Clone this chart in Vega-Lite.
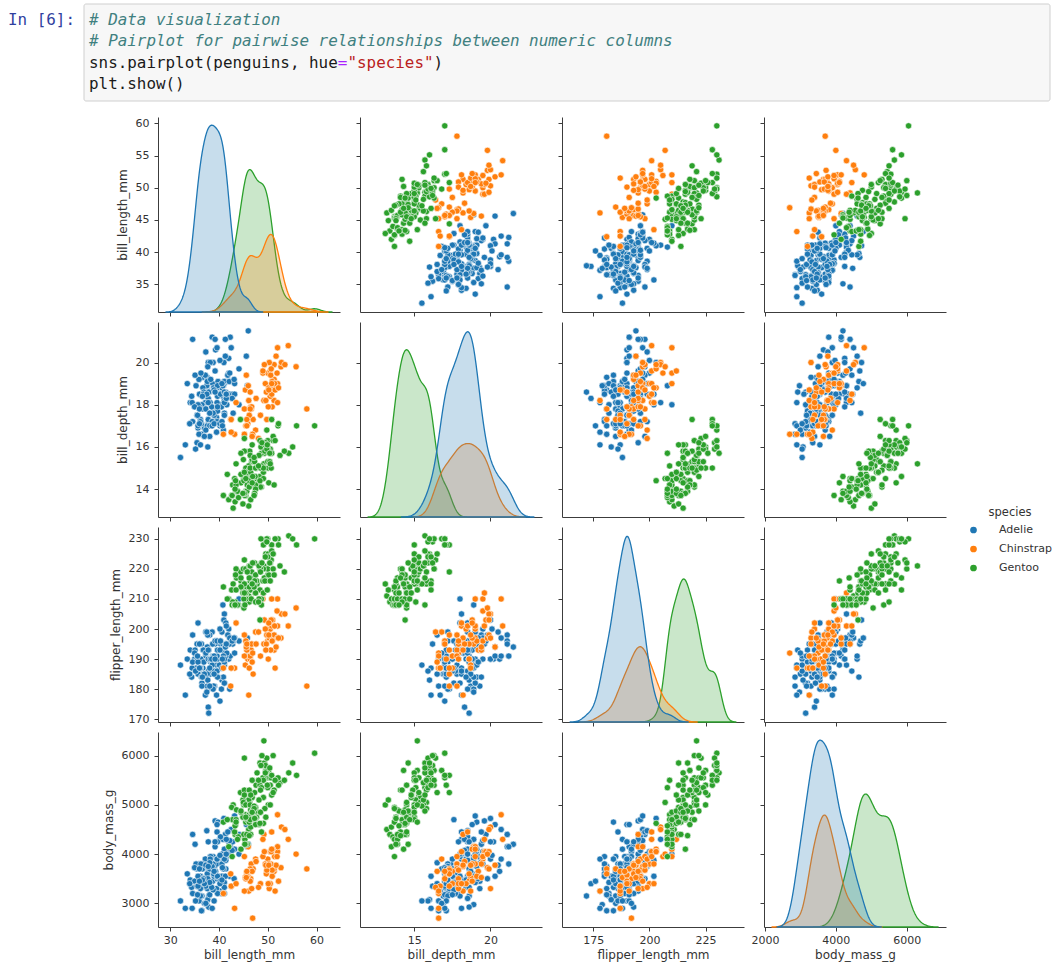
{
"$schema":"https://vega.github.io/schema/vega-lite/v6.json",
"background":"white",
"padding":{"left":8,"top":3,"right":4,"bottom":2},
"bounds":"flush",
"spacing":16,
"datasets":{
"code":[
{"line":1,"col":-8.46,"text":"In [6]:","kind":"prompt"},
{"line":1,"col":0,"text":"# Data visualization","kind":"comment"},
{"line":2,"col":0,"text":"# Pairplot for pairwise relationships between numeric columns","kind":"comment"},
{"line":3,"col":0,"text":"sns.pairplot(penguins, hue","kind":"code"},
{"line":3,"col":26,"text":"=","kind":"operator"},
{"line":3,"col":27,"text":"\"species\"","kind":"string"},
{"line":3,"col":36,"text":")","kind":"code"},
{"line":4,"col":0,"text":"plt.show()","kind":"code"}
],
"box":[{"x1":-0.522,"x2":100.4,"y1":0.25,"y2":4.797}],
"penguins":[
{"species":"Adelie","bill_length_mm":39.1,"bill_depth_mm":18.7,"flipper_length_mm":181,"body_mass_g":3750},
{"species":"Adelie","bill_length_mm":39.5,"bill_depth_mm":17.4,"flipper_length_mm":186,"body_mass_g":3800},
{"species":"Adelie","bill_length_mm":40.3,"bill_depth_mm":18.0,"flipper_length_mm":195,"body_mass_g":3250},
{"species":"Adelie","bill_length_mm":36.7,"bill_depth_mm":19.3,"flipper_length_mm":193,"body_mass_g":3450},
{"species":"Adelie","bill_length_mm":39.3,"bill_depth_mm":20.6,"flipper_length_mm":190,"body_mass_g":3650},
{"species":"Adelie","bill_length_mm":38.9,"bill_depth_mm":17.8,"flipper_length_mm":181,"body_mass_g":3625},
{"species":"Adelie","bill_length_mm":39.2,"bill_depth_mm":19.6,"flipper_length_mm":195,"body_mass_g":4675},
{"species":"Adelie","bill_length_mm":34.1,"bill_depth_mm":18.1,"flipper_length_mm":193,"body_mass_g":3475},
{"species":"Adelie","bill_length_mm":42.0,"bill_depth_mm":20.2,"flipper_length_mm":190,"body_mass_g":4250},
{"species":"Adelie","bill_length_mm":37.8,"bill_depth_mm":17.1,"flipper_length_mm":186,"body_mass_g":3300},
{"species":"Adelie","bill_length_mm":37.8,"bill_depth_mm":17.3,"flipper_length_mm":180,"body_mass_g":3700},
{"species":"Adelie","bill_length_mm":41.1,"bill_depth_mm":17.6,"flipper_length_mm":182,"body_mass_g":3200},
{"species":"Adelie","bill_length_mm":38.6,"bill_depth_mm":21.2,"flipper_length_mm":191,"body_mass_g":3800},
{"species":"Adelie","bill_length_mm":34.6,"bill_depth_mm":21.1,"flipper_length_mm":198,"body_mass_g":4400},
{"species":"Adelie","bill_length_mm":36.6,"bill_depth_mm":17.8,"flipper_length_mm":185,"body_mass_g":3700},
{"species":"Adelie","bill_length_mm":38.7,"bill_depth_mm":19.0,"flipper_length_mm":195,"body_mass_g":3450},
{"species":"Adelie","bill_length_mm":42.5,"bill_depth_mm":20.7,"flipper_length_mm":197,"body_mass_g":4500},
{"species":"Adelie","bill_length_mm":34.4,"bill_depth_mm":18.4,"flipper_length_mm":184,"body_mass_g":3325},
{"species":"Adelie","bill_length_mm":46.0,"bill_depth_mm":21.5,"flipper_length_mm":194,"body_mass_g":4200},
{"species":"Adelie","bill_length_mm":37.8,"bill_depth_mm":18.3,"flipper_length_mm":174,"body_mass_g":3400},
{"species":"Adelie","bill_length_mm":37.7,"bill_depth_mm":18.7,"flipper_length_mm":180,"body_mass_g":3600},
{"species":"Adelie","bill_length_mm":35.9,"bill_depth_mm":19.2,"flipper_length_mm":189,"body_mass_g":3800},
{"species":"Adelie","bill_length_mm":38.2,"bill_depth_mm":18.1,"flipper_length_mm":185,"body_mass_g":3950},
{"species":"Adelie","bill_length_mm":38.8,"bill_depth_mm":17.2,"flipper_length_mm":180,"body_mass_g":3800},
{"species":"Adelie","bill_length_mm":35.3,"bill_depth_mm":18.9,"flipper_length_mm":187,"body_mass_g":3800},
{"species":"Adelie","bill_length_mm":40.6,"bill_depth_mm":18.6,"flipper_length_mm":183,"body_mass_g":3550},
{"species":"Adelie","bill_length_mm":40.5,"bill_depth_mm":17.9,"flipper_length_mm":187,"body_mass_g":3200},
{"species":"Adelie","bill_length_mm":37.9,"bill_depth_mm":18.6,"flipper_length_mm":172,"body_mass_g":3150},
{"species":"Adelie","bill_length_mm":40.5,"bill_depth_mm":18.9,"flipper_length_mm":180,"body_mass_g":3950},
{"species":"Adelie","bill_length_mm":39.5,"bill_depth_mm":16.7,"flipper_length_mm":178,"body_mass_g":3250},
{"species":"Adelie","bill_length_mm":37.2,"bill_depth_mm":18.1,"flipper_length_mm":178,"body_mass_g":3900},
{"species":"Adelie","bill_length_mm":39.5,"bill_depth_mm":17.8,"flipper_length_mm":188,"body_mass_g":3300},
{"species":"Adelie","bill_length_mm":40.9,"bill_depth_mm":18.9,"flipper_length_mm":184,"body_mass_g":3900},
{"species":"Adelie","bill_length_mm":36.4,"bill_depth_mm":17.0,"flipper_length_mm":195,"body_mass_g":3325},
{"species":"Adelie","bill_length_mm":39.2,"bill_depth_mm":21.1,"flipper_length_mm":196,"body_mass_g":4150},
{"species":"Adelie","bill_length_mm":38.8,"bill_depth_mm":20.0,"flipper_length_mm":190,"body_mass_g":3950},
{"species":"Adelie","bill_length_mm":42.2,"bill_depth_mm":18.5,"flipper_length_mm":180,"body_mass_g":3550},
{"species":"Adelie","bill_length_mm":37.6,"bill_depth_mm":19.3,"flipper_length_mm":181,"body_mass_g":3300},
{"species":"Adelie","bill_length_mm":39.8,"bill_depth_mm":19.1,"flipper_length_mm":184,"body_mass_g":4650},
{"species":"Adelie","bill_length_mm":36.5,"bill_depth_mm":18.0,"flipper_length_mm":182,"body_mass_g":3150},
{"species":"Adelie","bill_length_mm":40.8,"bill_depth_mm":18.4,"flipper_length_mm":195,"body_mass_g":3900},
{"species":"Adelie","bill_length_mm":36.0,"bill_depth_mm":18.5,"flipper_length_mm":186,"body_mass_g":3100},
{"species":"Adelie","bill_length_mm":44.1,"bill_depth_mm":19.7,"flipper_length_mm":196,"body_mass_g":4400},
{"species":"Adelie","bill_length_mm":37.0,"bill_depth_mm":16.9,"flipper_length_mm":185,"body_mass_g":3000},
{"species":"Adelie","bill_length_mm":39.6,"bill_depth_mm":18.8,"flipper_length_mm":190,"body_mass_g":4600},
{"species":"Adelie","bill_length_mm":41.1,"bill_depth_mm":19.0,"flipper_length_mm":182,"body_mass_g":3425},
{"species":"Adelie","bill_length_mm":37.5,"bill_depth_mm":18.9,"flipper_length_mm":179,"body_mass_g":2975},
{"species":"Adelie","bill_length_mm":36.0,"bill_depth_mm":17.9,"flipper_length_mm":190,"body_mass_g":3450},
{"species":"Adelie","bill_length_mm":42.3,"bill_depth_mm":21.2,"flipper_length_mm":191,"body_mass_g":4150},
{"species":"Adelie","bill_length_mm":39.6,"bill_depth_mm":17.7,"flipper_length_mm":186,"body_mass_g":3500},
{"species":"Adelie","bill_length_mm":40.1,"bill_depth_mm":18.9,"flipper_length_mm":188,"body_mass_g":4300},
{"species":"Adelie","bill_length_mm":35.0,"bill_depth_mm":17.9,"flipper_length_mm":190,"body_mass_g":3450},
{"species":"Adelie","bill_length_mm":42.0,"bill_depth_mm":19.5,"flipper_length_mm":200,"body_mass_g":4050},
{"species":"Adelie","bill_length_mm":34.5,"bill_depth_mm":18.1,"flipper_length_mm":187,"body_mass_g":2900},
{"species":"Adelie","bill_length_mm":41.4,"bill_depth_mm":18.6,"flipper_length_mm":191,"body_mass_g":3700},
{"species":"Adelie","bill_length_mm":39.0,"bill_depth_mm":17.5,"flipper_length_mm":186,"body_mass_g":3550},
{"species":"Adelie","bill_length_mm":40.6,"bill_depth_mm":18.8,"flipper_length_mm":193,"body_mass_g":3800},
{"species":"Adelie","bill_length_mm":36.5,"bill_depth_mm":16.6,"flipper_length_mm":181,"body_mass_g":2850},
{"species":"Adelie","bill_length_mm":37.6,"bill_depth_mm":19.1,"flipper_length_mm":194,"body_mass_g":3750},
{"species":"Adelie","bill_length_mm":35.7,"bill_depth_mm":16.9,"flipper_length_mm":185,"body_mass_g":3150},
{"species":"Adelie","bill_length_mm":41.3,"bill_depth_mm":21.1,"flipper_length_mm":195,"body_mass_g":4400},
{"species":"Adelie","bill_length_mm":37.6,"bill_depth_mm":17.0,"flipper_length_mm":185,"body_mass_g":3600},
{"species":"Adelie","bill_length_mm":41.1,"bill_depth_mm":18.2,"flipper_length_mm":192,"body_mass_g":4050},
{"species":"Adelie","bill_length_mm":36.4,"bill_depth_mm":17.1,"flipper_length_mm":184,"body_mass_g":2850},
{"species":"Adelie","bill_length_mm":41.6,"bill_depth_mm":18.0,"flipper_length_mm":192,"body_mass_g":3950},
{"species":"Adelie","bill_length_mm":35.5,"bill_depth_mm":16.2,"flipper_length_mm":195,"body_mass_g":3350},
{"species":"Adelie","bill_length_mm":41.1,"bill_depth_mm":19.1,"flipper_length_mm":188,"body_mass_g":4100},
{"species":"Adelie","bill_length_mm":35.9,"bill_depth_mm":16.6,"flipper_length_mm":190,"body_mass_g":3050},
{"species":"Adelie","bill_length_mm":41.8,"bill_depth_mm":19.4,"flipper_length_mm":198,"body_mass_g":4450},
{"species":"Adelie","bill_length_mm":33.5,"bill_depth_mm":19.0,"flipper_length_mm":190,"body_mass_g":3600},
{"species":"Adelie","bill_length_mm":39.7,"bill_depth_mm":18.4,"flipper_length_mm":190,"body_mass_g":3900},
{"species":"Adelie","bill_length_mm":39.6,"bill_depth_mm":17.2,"flipper_length_mm":196,"body_mass_g":3550},
{"species":"Adelie","bill_length_mm":45.8,"bill_depth_mm":18.9,"flipper_length_mm":197,"body_mass_g":4150},
{"species":"Adelie","bill_length_mm":35.5,"bill_depth_mm":17.5,"flipper_length_mm":190,"body_mass_g":3700},
{"species":"Adelie","bill_length_mm":42.8,"bill_depth_mm":18.5,"flipper_length_mm":195,"body_mass_g":4250},
{"species":"Adelie","bill_length_mm":40.9,"bill_depth_mm":16.8,"flipper_length_mm":191,"body_mass_g":3700},
{"species":"Adelie","bill_length_mm":37.2,"bill_depth_mm":19.4,"flipper_length_mm":184,"body_mass_g":3900},
{"species":"Adelie","bill_length_mm":36.2,"bill_depth_mm":16.1,"flipper_length_mm":187,"body_mass_g":3550},
{"species":"Adelie","bill_length_mm":42.1,"bill_depth_mm":19.1,"flipper_length_mm":195,"body_mass_g":4000},
{"species":"Adelie","bill_length_mm":34.6,"bill_depth_mm":17.2,"flipper_length_mm":189,"body_mass_g":3200},
{"species":"Adelie","bill_length_mm":42.9,"bill_depth_mm":17.6,"flipper_length_mm":196,"body_mass_g":4700},
{"species":"Adelie","bill_length_mm":36.7,"bill_depth_mm":18.8,"flipper_length_mm":187,"body_mass_g":3800},
{"species":"Adelie","bill_length_mm":35.1,"bill_depth_mm":19.4,"flipper_length_mm":193,"body_mass_g":4200},
{"species":"Adelie","bill_length_mm":37.3,"bill_depth_mm":17.8,"flipper_length_mm":191,"body_mass_g":3350},
{"species":"Adelie","bill_length_mm":41.3,"bill_depth_mm":20.3,"flipper_length_mm":194,"body_mass_g":3550},
{"species":"Adelie","bill_length_mm":36.3,"bill_depth_mm":19.5,"flipper_length_mm":190,"body_mass_g":3800},
{"species":"Adelie","bill_length_mm":36.9,"bill_depth_mm":18.6,"flipper_length_mm":189,"body_mass_g":3500},
{"species":"Adelie","bill_length_mm":38.3,"bill_depth_mm":19.2,"flipper_length_mm":189,"body_mass_g":3950},
{"species":"Adelie","bill_length_mm":38.9,"bill_depth_mm":18.8,"flipper_length_mm":190,"body_mass_g":3600},
{"species":"Adelie","bill_length_mm":35.7,"bill_depth_mm":18.0,"flipper_length_mm":202,"body_mass_g":3550},
{"species":"Adelie","bill_length_mm":41.1,"bill_depth_mm":18.1,"flipper_length_mm":205,"body_mass_g":4300},
{"species":"Adelie","bill_length_mm":34.0,"bill_depth_mm":17.1,"flipper_length_mm":185,"body_mass_g":3400},
{"species":"Adelie","bill_length_mm":39.6,"bill_depth_mm":18.1,"flipper_length_mm":186,"body_mass_g":4450},
{"species":"Adelie","bill_length_mm":36.2,"bill_depth_mm":17.3,"flipper_length_mm":187,"body_mass_g":3300},
{"species":"Adelie","bill_length_mm":40.8,"bill_depth_mm":18.9,"flipper_length_mm":208,"body_mass_g":4300},
{"species":"Adelie","bill_length_mm":38.1,"bill_depth_mm":18.6,"flipper_length_mm":190,"body_mass_g":3700},
{"species":"Adelie","bill_length_mm":40.3,"bill_depth_mm":18.5,"flipper_length_mm":196,"body_mass_g":4350},
{"species":"Adelie","bill_length_mm":33.1,"bill_depth_mm":16.1,"flipper_length_mm":178,"body_mass_g":2900},
{"species":"Adelie","bill_length_mm":43.2,"bill_depth_mm":18.5,"flipper_length_mm":192,"body_mass_g":4100},
{"species":"Adelie","bill_length_mm":35.0,"bill_depth_mm":17.9,"flipper_length_mm":192,"body_mass_g":3725},
{"species":"Adelie","bill_length_mm":41.0,"bill_depth_mm":20.0,"flipper_length_mm":203,"body_mass_g":4725},
{"species":"Adelie","bill_length_mm":37.7,"bill_depth_mm":16.0,"flipper_length_mm":183,"body_mass_g":3075},
{"species":"Adelie","bill_length_mm":37.8,"bill_depth_mm":20.0,"flipper_length_mm":190,"body_mass_g":4250},
{"species":"Adelie","bill_length_mm":37.9,"bill_depth_mm":18.6,"flipper_length_mm":193,"body_mass_g":2925},
{"species":"Adelie","bill_length_mm":39.7,"bill_depth_mm":18.9,"flipper_length_mm":184,"body_mass_g":3550},
{"species":"Adelie","bill_length_mm":38.6,"bill_depth_mm":17.2,"flipper_length_mm":199,"body_mass_g":3750},
{"species":"Adelie","bill_length_mm":38.2,"bill_depth_mm":20.0,"flipper_length_mm":190,"body_mass_g":3900},
{"species":"Adelie","bill_length_mm":38.1,"bill_depth_mm":17.0,"flipper_length_mm":181,"body_mass_g":3175},
{"species":"Adelie","bill_length_mm":43.2,"bill_depth_mm":19.0,"flipper_length_mm":197,"body_mass_g":4775},
{"species":"Adelie","bill_length_mm":38.1,"bill_depth_mm":16.5,"flipper_length_mm":198,"body_mass_g":3825},
{"species":"Adelie","bill_length_mm":45.6,"bill_depth_mm":20.3,"flipper_length_mm":191,"body_mass_g":4600},
{"species":"Adelie","bill_length_mm":39.7,"bill_depth_mm":17.7,"flipper_length_mm":193,"body_mass_g":3200},
{"species":"Adelie","bill_length_mm":42.2,"bill_depth_mm":19.5,"flipper_length_mm":197,"body_mass_g":4275},
{"species":"Adelie","bill_length_mm":39.6,"bill_depth_mm":20.7,"flipper_length_mm":191,"body_mass_g":3900},
{"species":"Adelie","bill_length_mm":42.7,"bill_depth_mm":18.3,"flipper_length_mm":196,"body_mass_g":4075},
{"species":"Adelie","bill_length_mm":38.6,"bill_depth_mm":17.0,"flipper_length_mm":188,"body_mass_g":2900},
{"species":"Adelie","bill_length_mm":37.3,"bill_depth_mm":20.5,"flipper_length_mm":199,"body_mass_g":3775},
{"species":"Adelie","bill_length_mm":35.7,"bill_depth_mm":17.0,"flipper_length_mm":189,"body_mass_g":3350},
{"species":"Adelie","bill_length_mm":41.1,"bill_depth_mm":18.6,"flipper_length_mm":189,"body_mass_g":3325},
{"species":"Adelie","bill_length_mm":36.2,"bill_depth_mm":17.2,"flipper_length_mm":187,"body_mass_g":3150},
{"species":"Adelie","bill_length_mm":37.7,"bill_depth_mm":19.8,"flipper_length_mm":198,"body_mass_g":3500},
{"species":"Adelie","bill_length_mm":40.2,"bill_depth_mm":17.0,"flipper_length_mm":176,"body_mass_g":3450},
{"species":"Adelie","bill_length_mm":41.4,"bill_depth_mm":18.5,"flipper_length_mm":202,"body_mass_g":3875},
{"species":"Adelie","bill_length_mm":35.2,"bill_depth_mm":15.9,"flipper_length_mm":186,"body_mass_g":3050},
{"species":"Adelie","bill_length_mm":40.6,"bill_depth_mm":19.0,"flipper_length_mm":199,"body_mass_g":4000},
{"species":"Adelie","bill_length_mm":38.8,"bill_depth_mm":17.6,"flipper_length_mm":191,"body_mass_g":3275},
{"species":"Adelie","bill_length_mm":41.5,"bill_depth_mm":18.3,"flipper_length_mm":195,"body_mass_g":4300},
{"species":"Adelie","bill_length_mm":39.0,"bill_depth_mm":17.1,"flipper_length_mm":191,"body_mass_g":3050},
{"species":"Adelie","bill_length_mm":44.1,"bill_depth_mm":18.0,"flipper_length_mm":210,"body_mass_g":4000},
{"species":"Adelie","bill_length_mm":38.5,"bill_depth_mm":17.9,"flipper_length_mm":190,"body_mass_g":3325},
{"species":"Adelie","bill_length_mm":43.1,"bill_depth_mm":19.2,"flipper_length_mm":197,"body_mass_g":3500},
{"species":"Adelie","bill_length_mm":36.8,"bill_depth_mm":18.5,"flipper_length_mm":193,"body_mass_g":3500},
{"species":"Adelie","bill_length_mm":37.5,"bill_depth_mm":18.5,"flipper_length_mm":199,"body_mass_g":4475},
{"species":"Adelie","bill_length_mm":38.1,"bill_depth_mm":17.6,"flipper_length_mm":187,"body_mass_g":3425},
{"species":"Adelie","bill_length_mm":41.1,"bill_depth_mm":17.5,"flipper_length_mm":190,"body_mass_g":3900},
{"species":"Adelie","bill_length_mm":35.6,"bill_depth_mm":17.5,"flipper_length_mm":191,"body_mass_g":3175},
{"species":"Adelie","bill_length_mm":40.2,"bill_depth_mm":20.1,"flipper_length_mm":200,"body_mass_g":3975},
{"species":"Adelie","bill_length_mm":37.0,"bill_depth_mm":16.5,"flipper_length_mm":185,"body_mass_g":3400},
{"species":"Adelie","bill_length_mm":39.7,"bill_depth_mm":17.9,"flipper_length_mm":193,"body_mass_g":4250},
{"species":"Adelie","bill_length_mm":40.2,"bill_depth_mm":17.1,"flipper_length_mm":193,"body_mass_g":3400},
{"species":"Adelie","bill_length_mm":40.6,"bill_depth_mm":17.2,"flipper_length_mm":187,"body_mass_g":3475},
{"species":"Adelie","bill_length_mm":32.1,"bill_depth_mm":15.5,"flipper_length_mm":188,"body_mass_g":3050},
{"species":"Adelie","bill_length_mm":40.7,"bill_depth_mm":17.0,"flipper_length_mm":190,"body_mass_g":3725},
{"species":"Adelie","bill_length_mm":37.3,"bill_depth_mm":16.8,"flipper_length_mm":192,"body_mass_g":3000},
{"species":"Adelie","bill_length_mm":39.0,"bill_depth_mm":18.7,"flipper_length_mm":185,"body_mass_g":3650},
{"species":"Adelie","bill_length_mm":39.2,"bill_depth_mm":18.6,"flipper_length_mm":190,"body_mass_g":4250},
{"species":"Adelie","bill_length_mm":36.6,"bill_depth_mm":18.4,"flipper_length_mm":184,"body_mass_g":3475},
{"species":"Adelie","bill_length_mm":36.0,"bill_depth_mm":17.8,"flipper_length_mm":195,"body_mass_g":3450},
{"species":"Adelie","bill_length_mm":37.8,"bill_depth_mm":18.1,"flipper_length_mm":193,"body_mass_g":3750},
{"species":"Adelie","bill_length_mm":36.0,"bill_depth_mm":17.1,"flipper_length_mm":187,"body_mass_g":3700},
{"species":"Adelie","bill_length_mm":41.5,"bill_depth_mm":18.5,"flipper_length_mm":201,"body_mass_g":4000},
{"species":"Chinstrap","bill_length_mm":46.5,"bill_depth_mm":17.9,"flipper_length_mm":192,"body_mass_g":3500},
{"species":"Chinstrap","bill_length_mm":50.0,"bill_depth_mm":19.5,"flipper_length_mm":196,"body_mass_g":3900},
{"species":"Chinstrap","bill_length_mm":51.3,"bill_depth_mm":19.2,"flipper_length_mm":193,"body_mass_g":3650},
{"species":"Chinstrap","bill_length_mm":45.4,"bill_depth_mm":18.7,"flipper_length_mm":188,"body_mass_g":3525},
{"species":"Chinstrap","bill_length_mm":52.7,"bill_depth_mm":19.8,"flipper_length_mm":197,"body_mass_g":3725},
{"species":"Chinstrap","bill_length_mm":45.2,"bill_depth_mm":17.8,"flipper_length_mm":198,"body_mass_g":3950},
{"species":"Chinstrap","bill_length_mm":46.1,"bill_depth_mm":18.2,"flipper_length_mm":178,"body_mass_g":3250},
{"species":"Chinstrap","bill_length_mm":51.3,"bill_depth_mm":18.2,"flipper_length_mm":197,"body_mass_g":3750},
{"species":"Chinstrap","bill_length_mm":46.0,"bill_depth_mm":18.9,"flipper_length_mm":195,"body_mass_g":4150},
{"species":"Chinstrap","bill_length_mm":51.3,"bill_depth_mm":19.9,"flipper_length_mm":198,"body_mass_g":3700},
{"species":"Chinstrap","bill_length_mm":46.6,"bill_depth_mm":17.8,"flipper_length_mm":193,"body_mass_g":3800},
{"species":"Chinstrap","bill_length_mm":51.7,"bill_depth_mm":20.3,"flipper_length_mm":194,"body_mass_g":3775},
{"species":"Chinstrap","bill_length_mm":47.0,"bill_depth_mm":17.3,"flipper_length_mm":185,"body_mass_g":3700},
{"species":"Chinstrap","bill_length_mm":52.0,"bill_depth_mm":18.1,"flipper_length_mm":201,"body_mass_g":4050},
{"species":"Chinstrap","bill_length_mm":45.9,"bill_depth_mm":17.1,"flipper_length_mm":190,"body_mass_g":3575},
{"species":"Chinstrap","bill_length_mm":50.5,"bill_depth_mm":19.6,"flipper_length_mm":201,"body_mass_g":4050},
{"species":"Chinstrap","bill_length_mm":50.3,"bill_depth_mm":20.0,"flipper_length_mm":197,"body_mass_g":3300},
{"species":"Chinstrap","bill_length_mm":58.0,"bill_depth_mm":17.8,"flipper_length_mm":181,"body_mass_g":3700},
{"species":"Chinstrap","bill_length_mm":46.4,"bill_depth_mm":18.6,"flipper_length_mm":190,"body_mass_g":3450},
{"species":"Chinstrap","bill_length_mm":49.2,"bill_depth_mm":18.2,"flipper_length_mm":195,"body_mass_g":4400},
{"species":"Chinstrap","bill_length_mm":42.4,"bill_depth_mm":17.3,"flipper_length_mm":181,"body_mass_g":3600},
{"species":"Chinstrap","bill_length_mm":48.5,"bill_depth_mm":17.5,"flipper_length_mm":191,"body_mass_g":3400},
{"species":"Chinstrap","bill_length_mm":43.2,"bill_depth_mm":16.6,"flipper_length_mm":187,"body_mass_g":2900},
{"species":"Chinstrap","bill_length_mm":50.6,"bill_depth_mm":19.4,"flipper_length_mm":193,"body_mass_g":3800},
{"species":"Chinstrap","bill_length_mm":46.7,"bill_depth_mm":17.9,"flipper_length_mm":195,"body_mass_g":3300},
{"species":"Chinstrap","bill_length_mm":52.0,"bill_depth_mm":19.0,"flipper_length_mm":197,"body_mass_g":4150},
{"species":"Chinstrap","bill_length_mm":50.5,"bill_depth_mm":18.4,"flipper_length_mm":200,"body_mass_g":3400},
{"species":"Chinstrap","bill_length_mm":49.5,"bill_depth_mm":19.0,"flipper_length_mm":200,"body_mass_g":3800},
{"species":"Chinstrap","bill_length_mm":46.4,"bill_depth_mm":17.8,"flipper_length_mm":191,"body_mass_g":3700},
{"species":"Chinstrap","bill_length_mm":52.8,"bill_depth_mm":20.0,"flipper_length_mm":205,"body_mass_g":4550},
{"species":"Chinstrap","bill_length_mm":40.9,"bill_depth_mm":16.6,"flipper_length_mm":187,"body_mass_g":3200},
{"species":"Chinstrap","bill_length_mm":54.2,"bill_depth_mm":20.8,"flipper_length_mm":201,"body_mass_g":4300},
{"species":"Chinstrap","bill_length_mm":42.5,"bill_depth_mm":16.7,"flipper_length_mm":187,"body_mass_g":3350},
{"species":"Chinstrap","bill_length_mm":51.0,"bill_depth_mm":18.8,"flipper_length_mm":203,"body_mass_g":4100},
{"species":"Chinstrap","bill_length_mm":49.7,"bill_depth_mm":18.6,"flipper_length_mm":195,"body_mass_g":3600},
{"species":"Chinstrap","bill_length_mm":47.5,"bill_depth_mm":16.8,"flipper_length_mm":199,"body_mass_g":3900},
{"species":"Chinstrap","bill_length_mm":47.6,"bill_depth_mm":18.3,"flipper_length_mm":195,"body_mass_g":3850},
{"species":"Chinstrap","bill_length_mm":52.0,"bill_depth_mm":20.7,"flipper_length_mm":210,"body_mass_g":4800},
{"species":"Chinstrap","bill_length_mm":46.9,"bill_depth_mm":16.6,"flipper_length_mm":192,"body_mass_g":2700},
{"species":"Chinstrap","bill_length_mm":53.5,"bill_depth_mm":19.9,"flipper_length_mm":205,"body_mass_g":4500},
{"species":"Chinstrap","bill_length_mm":49.0,"bill_depth_mm":19.5,"flipper_length_mm":210,"body_mass_g":3950},
{"species":"Chinstrap","bill_length_mm":46.2,"bill_depth_mm":17.5,"flipper_length_mm":187,"body_mass_g":3650},
{"species":"Chinstrap","bill_length_mm":50.9,"bill_depth_mm":19.1,"flipper_length_mm":196,"body_mass_g":3550},
{"species":"Chinstrap","bill_length_mm":45.5,"bill_depth_mm":17.0,"flipper_length_mm":196,"body_mass_g":3500},
{"species":"Chinstrap","bill_length_mm":50.9,"bill_depth_mm":17.9,"flipper_length_mm":196,"body_mass_g":3675},
{"species":"Chinstrap","bill_length_mm":50.8,"bill_depth_mm":18.5,"flipper_length_mm":201,"body_mass_g":4450},
{"species":"Chinstrap","bill_length_mm":50.1,"bill_depth_mm":17.9,"flipper_length_mm":190,"body_mass_g":3400},
{"species":"Chinstrap","bill_length_mm":49.0,"bill_depth_mm":19.6,"flipper_length_mm":212,"body_mass_g":4300},
{"species":"Chinstrap","bill_length_mm":51.5,"bill_depth_mm":18.7,"flipper_length_mm":187,"body_mass_g":3250},
{"species":"Chinstrap","bill_length_mm":49.8,"bill_depth_mm":17.3,"flipper_length_mm":198,"body_mass_g":3675},
{"species":"Chinstrap","bill_length_mm":48.1,"bill_depth_mm":16.4,"flipper_length_mm":199,"body_mass_g":3325},
{"species":"Chinstrap","bill_length_mm":51.4,"bill_depth_mm":19.0,"flipper_length_mm":201,"body_mass_g":3950},
{"species":"Chinstrap","bill_length_mm":45.7,"bill_depth_mm":17.3,"flipper_length_mm":193,"body_mass_g":3600},
{"species":"Chinstrap","bill_length_mm":50.7,"bill_depth_mm":19.7,"flipper_length_mm":203,"body_mass_g":4050},
{"species":"Chinstrap","bill_length_mm":42.5,"bill_depth_mm":17.3,"flipper_length_mm":187,"body_mass_g":3350},
{"species":"Chinstrap","bill_length_mm":52.2,"bill_depth_mm":18.8,"flipper_length_mm":197,"body_mass_g":3450},
{"species":"Chinstrap","bill_length_mm":45.2,"bill_depth_mm":16.6,"flipper_length_mm":191,"body_mass_g":3250},
{"species":"Chinstrap","bill_length_mm":49.3,"bill_depth_mm":19.9,"flipper_length_mm":203,"body_mass_g":4050},
{"species":"Chinstrap","bill_length_mm":50.2,"bill_depth_mm":18.8,"flipper_length_mm":202,"body_mass_g":3800},
{"species":"Chinstrap","bill_length_mm":45.6,"bill_depth_mm":19.4,"flipper_length_mm":194,"body_mass_g":3525},
{"species":"Chinstrap","bill_length_mm":51.9,"bill_depth_mm":19.5,"flipper_length_mm":206,"body_mass_g":3950},
{"species":"Chinstrap","bill_length_mm":46.8,"bill_depth_mm":16.5,"flipper_length_mm":189,"body_mass_g":3650},
{"species":"Chinstrap","bill_length_mm":45.7,"bill_depth_mm":17.0,"flipper_length_mm":195,"body_mass_g":3650},
{"species":"Chinstrap","bill_length_mm":55.8,"bill_depth_mm":19.8,"flipper_length_mm":207,"body_mass_g":4000},
{"species":"Chinstrap","bill_length_mm":43.5,"bill_depth_mm":18.1,"flipper_length_mm":202,"body_mass_g":3400},
{"species":"Chinstrap","bill_length_mm":49.6,"bill_depth_mm":18.2,"flipper_length_mm":193,"body_mass_g":3775},
{"species":"Chinstrap","bill_length_mm":50.8,"bill_depth_mm":19.0,"flipper_length_mm":210,"body_mass_g":4100},
{"species":"Chinstrap","bill_length_mm":50.2,"bill_depth_mm":18.7,"flipper_length_mm":198,"body_mass_g":3775},
{"species":"Gentoo","bill_length_mm":46.1,"bill_depth_mm":13.2,"flipper_length_mm":211,"body_mass_g":4500},
{"species":"Gentoo","bill_length_mm":50.0,"bill_depth_mm":16.3,"flipper_length_mm":230,"body_mass_g":5700},
{"species":"Gentoo","bill_length_mm":48.7,"bill_depth_mm":14.1,"flipper_length_mm":210,"body_mass_g":4450},
{"species":"Gentoo","bill_length_mm":50.0,"bill_depth_mm":15.2,"flipper_length_mm":218,"body_mass_g":5700},
{"species":"Gentoo","bill_length_mm":47.6,"bill_depth_mm":14.5,"flipper_length_mm":215,"body_mass_g":5400},
{"species":"Gentoo","bill_length_mm":46.5,"bill_depth_mm":13.5,"flipper_length_mm":210,"body_mass_g":4550},
{"species":"Gentoo","bill_length_mm":45.4,"bill_depth_mm":14.6,"flipper_length_mm":211,"body_mass_g":4800},
{"species":"Gentoo","bill_length_mm":46.7,"bill_depth_mm":15.3,"flipper_length_mm":219,"body_mass_g":5200},
{"species":"Gentoo","bill_length_mm":43.3,"bill_depth_mm":13.4,"flipper_length_mm":209,"body_mass_g":4400},
{"species":"Gentoo","bill_length_mm":46.8,"bill_depth_mm":15.4,"flipper_length_mm":215,"body_mass_g":5150},
{"species":"Gentoo","bill_length_mm":40.9,"bill_depth_mm":13.7,"flipper_length_mm":214,"body_mass_g":4650},
{"species":"Gentoo","bill_length_mm":49.0,"bill_depth_mm":16.1,"flipper_length_mm":216,"body_mass_g":5550},
{"species":"Gentoo","bill_length_mm":45.5,"bill_depth_mm":13.7,"flipper_length_mm":214,"body_mass_g":4650},
{"species":"Gentoo","bill_length_mm":48.4,"bill_depth_mm":14.6,"flipper_length_mm":213,"body_mass_g":5850},
{"species":"Gentoo","bill_length_mm":45.8,"bill_depth_mm":14.6,"flipper_length_mm":210,"body_mass_g":4200},
{"species":"Gentoo","bill_length_mm":49.3,"bill_depth_mm":15.7,"flipper_length_mm":217,"body_mass_g":5850},
{"species":"Gentoo","bill_length_mm":42.0,"bill_depth_mm":13.5,"flipper_length_mm":210,"body_mass_g":4150},
{"species":"Gentoo","bill_length_mm":49.2,"bill_depth_mm":15.2,"flipper_length_mm":221,"body_mass_g":6300},
{"species":"Gentoo","bill_length_mm":46.2,"bill_depth_mm":14.5,"flipper_length_mm":209,"body_mass_g":4800},
{"species":"Gentoo","bill_length_mm":48.7,"bill_depth_mm":15.1,"flipper_length_mm":222,"body_mass_g":5350},
{"species":"Gentoo","bill_length_mm":50.2,"bill_depth_mm":14.3,"flipper_length_mm":218,"body_mass_g":5700},
{"species":"Gentoo","bill_length_mm":45.1,"bill_depth_mm":14.5,"flipper_length_mm":215,"body_mass_g":5000},
{"species":"Gentoo","bill_length_mm":46.5,"bill_depth_mm":14.5,"flipper_length_mm":213,"body_mass_g":4400},
{"species":"Gentoo","bill_length_mm":46.3,"bill_depth_mm":15.8,"flipper_length_mm":215,"body_mass_g":5050},
{"species":"Gentoo","bill_length_mm":42.9,"bill_depth_mm":13.1,"flipper_length_mm":215,"body_mass_g":5000},
{"species":"Gentoo","bill_length_mm":46.1,"bill_depth_mm":15.1,"flipper_length_mm":215,"body_mass_g":5100},
{"species":"Gentoo","bill_length_mm":44.5,"bill_depth_mm":14.3,"flipper_length_mm":216,"body_mass_g":4100},
{"species":"Gentoo","bill_length_mm":47.8,"bill_depth_mm":15.0,"flipper_length_mm":215,"body_mass_g":5650},
{"species":"Gentoo","bill_length_mm":48.2,"bill_depth_mm":14.3,"flipper_length_mm":210,"body_mass_g":4600},
{"species":"Gentoo","bill_length_mm":50.0,"bill_depth_mm":15.3,"flipper_length_mm":220,"body_mass_g":5550},
{"species":"Gentoo","bill_length_mm":47.3,"bill_depth_mm":15.3,"flipper_length_mm":222,"body_mass_g":5250},
{"species":"Gentoo","bill_length_mm":42.8,"bill_depth_mm":14.2,"flipper_length_mm":209,"body_mass_g":4700},
{"species":"Gentoo","bill_length_mm":45.1,"bill_depth_mm":14.5,"flipper_length_mm":207,"body_mass_g":5050},
{"species":"Gentoo","bill_length_mm":59.6,"bill_depth_mm":17.0,"flipper_length_mm":230,"body_mass_g":6050},
{"species":"Gentoo","bill_length_mm":49.1,"bill_depth_mm":14.8,"flipper_length_mm":220,"body_mass_g":5150},
{"species":"Gentoo","bill_length_mm":48.4,"bill_depth_mm":16.3,"flipper_length_mm":220,"body_mass_g":5400},
{"species":"Gentoo","bill_length_mm":42.6,"bill_depth_mm":13.7,"flipper_length_mm":213,"body_mass_g":4950},
{"species":"Gentoo","bill_length_mm":44.4,"bill_depth_mm":17.3,"flipper_length_mm":219,"body_mass_g":5250},
{"species":"Gentoo","bill_length_mm":44.0,"bill_depth_mm":13.6,"flipper_length_mm":208,"body_mass_g":4350},
{"species":"Gentoo","bill_length_mm":48.7,"bill_depth_mm":15.7,"flipper_length_mm":208,"body_mass_g":5350},
{"species":"Gentoo","bill_length_mm":42.7,"bill_depth_mm":13.7,"flipper_length_mm":208,"body_mass_g":3950},
{"species":"Gentoo","bill_length_mm":49.6,"bill_depth_mm":16.0,"flipper_length_mm":225,"body_mass_g":5700},
{"species":"Gentoo","bill_length_mm":45.3,"bill_depth_mm":13.7,"flipper_length_mm":210,"body_mass_g":4300},
{"species":"Gentoo","bill_length_mm":49.6,"bill_depth_mm":15.0,"flipper_length_mm":216,"body_mass_g":4750},
{"species":"Gentoo","bill_length_mm":50.5,"bill_depth_mm":15.9,"flipper_length_mm":222,"body_mass_g":5550},
{"species":"Gentoo","bill_length_mm":43.6,"bill_depth_mm":13.9,"flipper_length_mm":217,"body_mass_g":4900},
{"species":"Gentoo","bill_length_mm":45.5,"bill_depth_mm":13.9,"flipper_length_mm":210,"body_mass_g":4200},
{"species":"Gentoo","bill_length_mm":50.5,"bill_depth_mm":15.9,"flipper_length_mm":225,"body_mass_g":5400},
{"species":"Gentoo","bill_length_mm":44.9,"bill_depth_mm":13.3,"flipper_length_mm":213,"body_mass_g":5100},
{"species":"Gentoo","bill_length_mm":45.2,"bill_depth_mm":15.8,"flipper_length_mm":215,"body_mass_g":5300},
{"species":"Gentoo","bill_length_mm":46.6,"bill_depth_mm":14.2,"flipper_length_mm":210,"body_mass_g":4850},
{"species":"Gentoo","bill_length_mm":48.5,"bill_depth_mm":14.1,"flipper_length_mm":220,"body_mass_g":5300},
{"species":"Gentoo","bill_length_mm":45.1,"bill_depth_mm":14.4,"flipper_length_mm":210,"body_mass_g":4400},
{"species":"Gentoo","bill_length_mm":50.1,"bill_depth_mm":15.0,"flipper_length_mm":225,"body_mass_g":5000},
{"species":"Gentoo","bill_length_mm":46.5,"bill_depth_mm":14.4,"flipper_length_mm":217,"body_mass_g":4900},
{"species":"Gentoo","bill_length_mm":45.0,"bill_depth_mm":15.4,"flipper_length_mm":220,"body_mass_g":5050},
{"species":"Gentoo","bill_length_mm":43.8,"bill_depth_mm":13.9,"flipper_length_mm":208,"body_mass_g":4300},
{"species":"Gentoo","bill_length_mm":45.5,"bill_depth_mm":15.0,"flipper_length_mm":220,"body_mass_g":5000},
{"species":"Gentoo","bill_length_mm":43.2,"bill_depth_mm":14.5,"flipper_length_mm":208,"body_mass_g":4450},
{"species":"Gentoo","bill_length_mm":50.4,"bill_depth_mm":15.3,"flipper_length_mm":224,"body_mass_g":5550},
{"species":"Gentoo","bill_length_mm":45.3,"bill_depth_mm":13.8,"flipper_length_mm":208,"body_mass_g":4200},
{"species":"Gentoo","bill_length_mm":46.2,"bill_depth_mm":14.9,"flipper_length_mm":221,"body_mass_g":5300},
{"species":"Gentoo","bill_length_mm":45.7,"bill_depth_mm":13.9,"flipper_length_mm":214,"body_mass_g":4400},
{"species":"Gentoo","bill_length_mm":54.3,"bill_depth_mm":15.7,"flipper_length_mm":231,"body_mass_g":5650},
{"species":"Gentoo","bill_length_mm":45.8,"bill_depth_mm":14.2,"flipper_length_mm":219,"body_mass_g":4700},
{"species":"Gentoo","bill_length_mm":49.8,"bill_depth_mm":16.8,"flipper_length_mm":230,"body_mass_g":5700},
{"species":"Gentoo","bill_length_mm":46.2,"bill_depth_mm":14.4,"flipper_length_mm":214,"body_mass_g":4650},
{"species":"Gentoo","bill_length_mm":49.5,"bill_depth_mm":16.2,"flipper_length_mm":229,"body_mass_g":5800},
{"species":"Gentoo","bill_length_mm":43.5,"bill_depth_mm":14.2,"flipper_length_mm":220,"body_mass_g":4700},
{"species":"Gentoo","bill_length_mm":50.7,"bill_depth_mm":15.0,"flipper_length_mm":223,"body_mass_g":5550},
{"species":"Gentoo","bill_length_mm":47.7,"bill_depth_mm":15.0,"flipper_length_mm":216,"body_mass_g":4750},
{"species":"Gentoo","bill_length_mm":46.4,"bill_depth_mm":15.6,"flipper_length_mm":221,"body_mass_g":5000},
{"species":"Gentoo","bill_length_mm":48.2,"bill_depth_mm":15.6,"flipper_length_mm":221,"body_mass_g":5100},
{"species":"Gentoo","bill_length_mm":46.5,"bill_depth_mm":14.8,"flipper_length_mm":217,"body_mass_g":5200},
{"species":"Gentoo","bill_length_mm":46.4,"bill_depth_mm":15.0,"flipper_length_mm":216,"body_mass_g":4700},
{"species":"Gentoo","bill_length_mm":48.6,"bill_depth_mm":16.0,"flipper_length_mm":230,"body_mass_g":5800},
{"species":"Gentoo","bill_length_mm":47.5,"bill_depth_mm":14.2,"flipper_length_mm":209,"body_mass_g":4600},
{"species":"Gentoo","bill_length_mm":51.1,"bill_depth_mm":16.3,"flipper_length_mm":220,"body_mass_g":6000},
{"species":"Gentoo","bill_length_mm":45.2,"bill_depth_mm":13.8,"flipper_length_mm":215,"body_mass_g":4750},
{"species":"Gentoo","bill_length_mm":45.2,"bill_depth_mm":16.4,"flipper_length_mm":223,"body_mass_g":5950},
{"species":"Gentoo","bill_length_mm":49.1,"bill_depth_mm":14.5,"flipper_length_mm":212,"body_mass_g":4625},
{"species":"Gentoo","bill_length_mm":52.5,"bill_depth_mm":15.6,"flipper_length_mm":221,"body_mass_g":5450},
{"species":"Gentoo","bill_length_mm":47.4,"bill_depth_mm":14.6,"flipper_length_mm":212,"body_mass_g":4725},
{"species":"Gentoo","bill_length_mm":50.0,"bill_depth_mm":15.9,"flipper_length_mm":224,"body_mass_g":5350},
{"species":"Gentoo","bill_length_mm":44.9,"bill_depth_mm":13.8,"flipper_length_mm":212,"body_mass_g":4750},
{"species":"Gentoo","bill_length_mm":50.8,"bill_depth_mm":17.3,"flipper_length_mm":228,"body_mass_g":5600},
{"species":"Gentoo","bill_length_mm":43.4,"bill_depth_mm":14.4,"flipper_length_mm":218,"body_mass_g":4600},
{"species":"Gentoo","bill_length_mm":51.3,"bill_depth_mm":14.2,"flipper_length_mm":218,"body_mass_g":5300},
{"species":"Gentoo","bill_length_mm":47.5,"bill_depth_mm":14.0,"flipper_length_mm":212,"body_mass_g":4875},
{"species":"Gentoo","bill_length_mm":52.1,"bill_depth_mm":17.0,"flipper_length_mm":230,"body_mass_g":5550},
{"species":"Gentoo","bill_length_mm":47.5,"bill_depth_mm":15.0,"flipper_length_mm":218,"body_mass_g":4950},
{"species":"Gentoo","bill_length_mm":52.2,"bill_depth_mm":17.1,"flipper_length_mm":228,"body_mass_g":5400},
{"species":"Gentoo","bill_length_mm":45.5,"bill_depth_mm":14.5,"flipper_length_mm":212,"body_mass_g":4750},
{"species":"Gentoo","bill_length_mm":49.5,"bill_depth_mm":16.1,"flipper_length_mm":224,"body_mass_g":5650},
{"species":"Gentoo","bill_length_mm":44.5,"bill_depth_mm":14.7,"flipper_length_mm":214,"body_mass_g":4850},
{"species":"Gentoo","bill_length_mm":50.8,"bill_depth_mm":15.7,"flipper_length_mm":226,"body_mass_g":5200},
{"species":"Gentoo","bill_length_mm":49.4,"bill_depth_mm":15.8,"flipper_length_mm":216,"body_mass_g":4925},
{"species":"Gentoo","bill_length_mm":46.9,"bill_depth_mm":14.6,"flipper_length_mm":222,"body_mass_g":4875},
{"species":"Gentoo","bill_length_mm":48.4,"bill_depth_mm":14.4,"flipper_length_mm":203,"body_mass_g":4625},
{"species":"Gentoo","bill_length_mm":51.1,"bill_depth_mm":16.5,"flipper_length_mm":225,"body_mass_g":5250},
{"species":"Gentoo","bill_length_mm":48.5,"bill_depth_mm":15.0,"flipper_length_mm":219,"body_mass_g":4850},
{"species":"Gentoo","bill_length_mm":55.9,"bill_depth_mm":17.0,"flipper_length_mm":228,"body_mass_g":5600},
{"species":"Gentoo","bill_length_mm":47.2,"bill_depth_mm":15.5,"flipper_length_mm":215,"body_mass_g":4975},
{"species":"Gentoo","bill_length_mm":49.1,"bill_depth_mm":15.0,"flipper_length_mm":228,"body_mass_g":5500},
{"species":"Gentoo","bill_length_mm":47.3,"bill_depth_mm":13.8,"flipper_length_mm":216,"body_mass_g":4725},
{"species":"Gentoo","bill_length_mm":46.8,"bill_depth_mm":16.1,"flipper_length_mm":215,"body_mass_g":5500},
{"species":"Gentoo","bill_length_mm":41.7,"bill_depth_mm":14.7,"flipper_length_mm":210,"body_mass_g":4700},
{"species":"Gentoo","bill_length_mm":53.4,"bill_depth_mm":15.8,"flipper_length_mm":219,"body_mass_g":5500},
{"species":"Gentoo","bill_length_mm":43.3,"bill_depth_mm":14.0,"flipper_length_mm":208,"body_mass_g":4575},
{"species":"Gentoo","bill_length_mm":48.1,"bill_depth_mm":15.1,"flipper_length_mm":209,"body_mass_g":5500},
{"species":"Gentoo","bill_length_mm":50.5,"bill_depth_mm":15.2,"flipper_length_mm":216,"body_mass_g":5000},
{"species":"Gentoo","bill_length_mm":49.8,"bill_depth_mm":15.9,"flipper_length_mm":229,"body_mass_g":5950},
{"species":"Gentoo","bill_length_mm":43.5,"bill_depth_mm":15.2,"flipper_length_mm":213,"body_mass_g":4650},
{"species":"Gentoo","bill_length_mm":51.5,"bill_depth_mm":16.3,"flipper_length_mm":230,"body_mass_g":5500},
{"species":"Gentoo","bill_length_mm":46.2,"bill_depth_mm":14.1,"flipper_length_mm":217,"body_mass_g":4375},
{"species":"Gentoo","bill_length_mm":55.1,"bill_depth_mm":16.0,"flipper_length_mm":230,"body_mass_g":5850},
{"species":"Gentoo","bill_length_mm":44.5,"bill_depth_mm":15.7,"flipper_length_mm":217,"body_mass_g":4875},
{"species":"Gentoo","bill_length_mm":48.8,"bill_depth_mm":16.2,"flipper_length_mm":222,"body_mass_g":6000},
{"species":"Gentoo","bill_length_mm":47.2,"bill_depth_mm":13.7,"flipper_length_mm":214,"body_mass_g":4925},
{"species":"Gentoo","bill_length_mm":46.8,"bill_depth_mm":14.3,"flipper_length_mm":215,"body_mass_g":4850},
{"species":"Gentoo","bill_length_mm":50.4,"bill_depth_mm":15.7,"flipper_length_mm":222,"body_mass_g":5750},
{"species":"Gentoo","bill_length_mm":45.2,"bill_depth_mm":14.8,"flipper_length_mm":212,"body_mass_g":5200},
{"species":"Gentoo","bill_length_mm":49.9,"bill_depth_mm":16.1,"flipper_length_mm":213,"body_mass_g":5400}
]},
"vconcat":[
{"width":892,"height":97,
 "layer":[
  {"data":{"name":"box"},"mark":{"type":"rect","fill":"#f7f7f7","stroke":"#cfcfcf","strokeWidth":1,"cornerRadius":2},
   "encoding":{"x":{"field":"x1","type":"quantitative","scale":{"domain":[7.209,100.4],"nice":false,"zero":false},"axis":null},"x2":{"field":"x2"},
               "y":{"field":"y1","type":"quantitative","scale":{"domain":[0.25,4.797],"nice":false,"zero":false,"reverse":true},"axis":null},"y2":{"field":"y2"}}},
  {"data":{"name":"code"},"transform":[{"filter":{"field":"kind","equal":"comment"}}],
   "mark":{"type":"text","align":"left","baseline":"middle","font":"DejaVu Sans Mono","fontSize":15.9,"fontStyle":"italic","color":"#408080"},
   "encoding":{"x":{"field":"col","type":"quantitative","scale":{"domain":[7.209,100.4],"nice":false,"zero":false},"axis":null},
               "y":{"field":"line","type":"quantitative","scale":{"domain":[0.25,4.797],"nice":false,"zero":false,"reverse":true},"axis":null},"text":{"field":"text"}}},
  {"data":{"name":"code"},"transform":[{"filter":{"not":{"field":"kind","equal":"comment"}}}],
   "mark":{"type":"text","align":"left","baseline":"middle","font":"DejaVu Sans Mono","fontSize":15.9},
   "encoding":{"x":{"field":"col","type":"quantitative","scale":{"domain":[7.209,100.4],"nice":false,"zero":false},"axis":null},
               "y":{"field":"line","type":"quantitative","scale":{"domain":[0.25,4.797],"nice":false,"zero":false,"reverse":true},"axis":null},"text":{"field":"text"},
               "fill":{"field":"kind","type":"nominal","scale":{"domain":["code","operator","string","prompt"],"range":["#1a1a1a","#AA22FF","#BA2121","#303F9F"]},"legend":null}}}
 ]},
{"data":{"name":"penguins"},"columns":4,"spacing":{"row":10,"column":20},"bounds":"flush",
 "concat":[
  {"width":182,"height":195,"layer":[
    {"mark":{"type":"circle","opacity":0},"encoding":{
      "x":{"field":"bill_length_mm","type":"quantitative","scale":{"domain":[27.5,64.8],"nice":false,"zero":false},"axis":{"values":[30,40,50,60],"format":"d","labels":false,"title":null}},
      "y":{"field":"bill_length_mm","type":"quantitative","scale":{"domain":[30.725,60.975],"nice":false,"zero":false},"axis":{"values":[35,40,45,50,55,60],"format":"d","labels":true,"title":"bill_length_mm"}}}},
    {"layer":[
      {"transform":[{"filter":{"field":"species","equal":"Gentoo"}},{"density":"bill_length_mm","bandwidth":1.177,"extent":[37.37,63.13],"steps":200,"counts":true}],
       "mark":{"type":"area","fill":"#2ca02c","fillOpacity":0.25,"stroke":"#2ca02c","strokeWidth":1.3},
       "encoding":{"x":{"field":"value","type":"quantitative","scale":{"domain":[27.5,64.8],"nice":false,"zero":false},"axis":{"values":[30,40,50,60],"format":"d","labels":false,"title":null}},"y":{"field":"density","type":"quantitative","scale":{"domain":[0,20.4],"nice":false},"axis":null}}},
      {"transform":[{"filter":{"field":"species","equal":"Chinstrap"}},{"density":"bill_length_mm","bandwidth":1.436,"extent":[36.59,62.31],"steps":200,"counts":true}],
       "mark":{"type":"area","fill":"#ff7f0e","fillOpacity":0.25,"stroke":"#ff7f0e","strokeWidth":1.3},
       "encoding":{"x":{"field":"value","type":"quantitative","scale":{"domain":[27.5,64.8],"nice":false,"zero":false},"axis":{"values":[30,40,50,60],"format":"d","labels":false,"title":null}},"y":{"field":"density","type":"quantitative","scale":{"domain":[0,20.4],"nice":false},"axis":null}}},
      {"transform":[{"filter":{"field":"species","equal":"Adelie"}},{"density":"bill_length_mm","bandwidth":0.975,"extent":[29.17,48.93],"steps":200,"counts":true}],
       "mark":{"type":"area","fill":"#1f77b4","fillOpacity":0.25,"stroke":"#1f77b4","strokeWidth":1.3},
       "encoding":{"x":{"field":"value","type":"quantitative","scale":{"domain":[27.5,64.8],"nice":false,"zero":false},"axis":{"values":[30,40,50,60],"format":"d","labels":false,"title":null}},"y":{"field":"density","type":"quantitative","scale":{"domain":[0,20.4],"nice":false},"axis":null}}}
    ]}
   ],"resolve":{"scale":{"y":"independent"}}},
  {"width":182,"height":195,"mark":{"type":"circle","size":40,"opacity":1,"stroke":"white","strokeWidth":0.6},"encoding":{
    "x":{"field":"bill_depth_mm","type":"quantitative","scale":{"domain":[11.44,23.38],"nice":false,"zero":false},"axis":{"values":[15,20],"format":"d","labels":false,"title":null}},
    "y":{"field":"bill_length_mm","type":"quantitative","scale":{"domain":[30.725,60.975],"nice":false,"zero":false},"axis":{"values":[35,40,45,50,55,60],"format":"d","labels":false,"title":null}},
    "color":{"field":"species","type":"nominal","scale":{"domain":["Adelie","Chinstrap","Gentoo"],"range":["#1f77b4","#ff7f0e","#2ca02c"]},"title":"species"}}},
  {"width":182,"height":195,"mark":{"type":"circle","size":40,"opacity":1,"stroke":"white","strokeWidth":0.6},"encoding":{
    "x":{"field":"flipper_length_mm","type":"quantitative","scale":{"domain":[161.1,242.1],"nice":false,"zero":false},"axis":{"values":[175,200,225],"format":"d","labels":false,"title":null}},
    "y":{"field":"bill_length_mm","type":"quantitative","scale":{"domain":[30.725,60.975],"nice":false,"zero":false},"axis":{"values":[35,40,45,50,55,60],"format":"d","labels":false,"title":null}},
    "color":{"field":"species","type":"nominal","scale":{"domain":["Adelie","Chinstrap","Gentoo"],"range":["#1f77b4","#ff7f0e","#2ca02c"]},"title":"species"}}},
  {"width":182,"height":195,"mark":{"type":"circle","size":40,"opacity":1,"stroke":"white","strokeWidth":0.6},"encoding":{
    "x":{"field":"body_mass_g","type":"quantitative","scale":{"domain":[1975,7105],"nice":false,"zero":false},"axis":{"values":[2000,4000,6000],"format":"d","labels":false,"title":null}},
    "y":{"field":"bill_length_mm","type":"quantitative","scale":{"domain":[30.725,60.975],"nice":false,"zero":false},"axis":{"values":[35,40,45,50,55,60],"format":"d","labels":false,"title":null}},
    "color":{"field":"species","type":"nominal","scale":{"domain":["Adelie","Chinstrap","Gentoo"],"range":["#1f77b4","#ff7f0e","#2ca02c"]},"title":"species"}}},

  {"width":182,"height":195,"mark":{"type":"circle","size":40,"opacity":1,"stroke":"white","strokeWidth":0.6},"encoding":{
    "x":{"field":"bill_length_mm","type":"quantitative","scale":{"domain":[27.5,64.8],"nice":false,"zero":false},"axis":{"values":[30,40,50,60],"format":"d","labels":false,"title":null}},
    "y":{"field":"bill_depth_mm","type":"quantitative","scale":{"domain":[12.68,21.92],"nice":false,"zero":false},"axis":{"values":[14,16,18,20],"format":"d","labels":true,"title":"bill_depth_mm"}},
    "color":{"field":"species","type":"nominal","scale":{"domain":["Adelie","Chinstrap","Gentoo"],"range":["#1f77b4","#ff7f0e","#2ca02c"]},"title":"species"}}},
  {"width":182,"height":195,"layer":[
    {"mark":{"type":"circle","opacity":0},"encoding":{
      "x":{"field":"bill_depth_mm","type":"quantitative","scale":{"domain":[11.44,23.38],"nice":false,"zero":false},"axis":{"values":[15,20],"format":"d","labels":false,"title":null}},
      "y":{"field":"bill_depth_mm","type":"quantitative","scale":{"domain":[12.68,21.92],"nice":false,"zero":false},"axis":{"values":[14,16,18,20],"format":"d","labels":false,"title":null}}}},
    {"layer":[
      {"transform":[{"filter":{"field":"species","equal":"Gentoo"}},{"density":"bill_depth_mm","bandwidth":0.374,"extent":[11.98,18.42],"steps":200,"counts":true}],
       "mark":{"type":"area","fill":"#2ca02c","fillOpacity":0.25,"stroke":"#2ca02c","strokeWidth":1.3},
       "encoding":{"x":{"field":"value","type":"quantitative","scale":{"domain":[11.44,23.38],"nice":false,"zero":false},"axis":{"values":[15,20],"format":"d","labels":false,"title":null}},"y":{"field":"density","type":"quantitative","scale":{"domain":[0,51.3],"nice":false},"axis":null}}},
      {"transform":[{"filter":{"field":"species","equal":"Chinstrap"}},{"density":"bill_depth_mm","bandwidth":0.49,"extent":[14.93,22.27],"steps":200,"counts":true}],
       "mark":{"type":"area","fill":"#ff7f0e","fillOpacity":0.25,"stroke":"#ff7f0e","strokeWidth":1.3},
       "encoding":{"x":{"field":"value","type":"quantitative","scale":{"domain":[11.44,23.38],"nice":false,"zero":false},"axis":{"values":[15,20],"format":"d","labels":false,"title":null}},"y":{"field":"density","type":"quantitative","scale":{"domain":[0,51.3],"nice":false},"axis":null}}},
      {"transform":[{"filter":{"field":"species","equal":"Adelie"}},{"density":"bill_depth_mm","bandwidth":0.447,"extent":[14.16,22.84],"steps":200,"counts":true}],
       "mark":{"type":"area","fill":"#1f77b4","fillOpacity":0.25,"stroke":"#1f77b4","strokeWidth":1.3},
       "encoding":{"x":{"field":"value","type":"quantitative","scale":{"domain":[11.44,23.38],"nice":false,"zero":false},"axis":{"values":[15,20],"format":"d","labels":false,"title":null}},"y":{"field":"density","type":"quantitative","scale":{"domain":[0,51.3],"nice":false},"axis":null}}}
    ]}
   ],"resolve":{"scale":{"y":"independent"}}},
  {"width":182,"height":195,"mark":{"type":"circle","size":40,"opacity":1,"stroke":"white","strokeWidth":0.6},"encoding":{
    "x":{"field":"flipper_length_mm","type":"quantitative","scale":{"domain":[161.1,242.1],"nice":false,"zero":false},"axis":{"values":[175,200,225],"format":"d","labels":false,"title":null}},
    "y":{"field":"bill_depth_mm","type":"quantitative","scale":{"domain":[12.68,21.92],"nice":false,"zero":false},"axis":{"values":[14,16,18,20],"format":"d","labels":false,"title":null}},
    "color":{"field":"species","type":"nominal","scale":{"domain":["Adelie","Chinstrap","Gentoo"],"range":["#1f77b4","#ff7f0e","#2ca02c"]},"title":"species"}}},
  {"width":182,"height":195,"mark":{"type":"circle","size":40,"opacity":1,"stroke":"white","strokeWidth":0.6},"encoding":{
    "x":{"field":"body_mass_g","type":"quantitative","scale":{"domain":[1975,7105],"nice":false,"zero":false},"axis":{"values":[2000,4000,6000],"format":"d","labels":false,"title":null}},
    "y":{"field":"bill_depth_mm","type":"quantitative","scale":{"domain":[12.68,21.92],"nice":false,"zero":false},"axis":{"values":[14,16,18,20],"format":"d","labels":false,"title":null}},
    "color":{"field":"species","type":"nominal","scale":{"domain":["Adelie","Chinstrap","Gentoo"],"range":["#1f77b4","#ff7f0e","#2ca02c"]},"title":"species"}}},

  {"width":182,"height":195,"mark":{"type":"circle","size":40,"opacity":1,"stroke":"white","strokeWidth":0.6},"encoding":{
    "x":{"field":"bill_length_mm","type":"quantitative","scale":{"domain":[27.5,64.8],"nice":false,"zero":false},"axis":{"values":[30,40,50,60],"format":"d","labels":false,"title":null}},
    "y":{"field":"flipper_length_mm","type":"quantitative","scale":{"domain":[169.05,233.95],"nice":false,"zero":false},"axis":{"values":[170,180,190,200,210,220,230],"format":"d","labels":true,"title":"flipper_length_mm"}},
    "color":{"field":"species","type":"nominal","scale":{"domain":["Adelie","Chinstrap","Gentoo"],"range":["#1f77b4","#ff7f0e","#2ca02c"]},"title":"species"}}},
  {"width":182,"height":195,"mark":{"type":"circle","size":40,"opacity":1,"stroke":"white","strokeWidth":0.6},"encoding":{
    "x":{"field":"bill_depth_mm","type":"quantitative","scale":{"domain":[11.44,23.38],"nice":false,"zero":false},"axis":{"values":[15,20],"format":"d","labels":false,"title":null}},
    "y":{"field":"flipper_length_mm","type":"quantitative","scale":{"domain":[169.05,233.95],"nice":false,"zero":false},"axis":{"values":[170,180,190,200,210,220,230],"format":"d","labels":false,"title":null}},
    "color":{"field":"species","type":"nominal","scale":{"domain":["Adelie","Chinstrap","Gentoo"],"range":["#1f77b4","#ff7f0e","#2ca02c"]},"title":"species"}}},
  {"width":182,"height":195,"layer":[
    {"mark":{"type":"circle","opacity":0},"encoding":{
      "x":{"field":"flipper_length_mm","type":"quantitative","scale":{"domain":[161.1,242.1],"nice":false,"zero":false},"axis":{"values":[175,200,225],"format":"d","labels":false,"title":null}},
      "y":{"field":"flipper_length_mm","type":"quantitative","scale":{"domain":[169.05,233.95],"nice":false,"zero":false},"axis":{"values":[170,180,190,200,210,220,230],"format":"d","labels":false,"title":null}}}},
    {"layer":[
      {"transform":[{"filter":{"field":"species","equal":"Gentoo"}},{"density":"flipper_length_mm","bandwidth":2.475,"extent":[195.57,238.43],"steps":200,"counts":true}],
       "mark":{"type":"area","fill":"#2ca02c","fillOpacity":0.25,"stroke":"#2ca02c","strokeWidth":1.3},
       "encoding":{"x":{"field":"value","type":"quantitative","scale":{"domain":[161.1,242.1],"nice":false,"zero":false},"axis":{"values":[175,200,225],"format":"d","labels":false,"title":null}},"y":{"field":"density","type":"quantitative","scale":{"domain":[0,9.65],"nice":false},"axis":null}}},
      {"transform":[{"filter":{"field":"species","equal":"Chinstrap"}},{"density":"flipper_length_mm","bandwidth":3.066,"extent":[168.8,221.2],"steps":200,"counts":true}],
       "mark":{"type":"area","fill":"#ff7f0e","fillOpacity":0.25,"stroke":"#ff7f0e","strokeWidth":1.3},
       "encoding":{"x":{"field":"value","type":"quantitative","scale":{"domain":[161.1,242.1],"nice":false,"zero":false},"axis":{"values":[175,200,225],"format":"d","labels":false,"title":null}},"y":{"field":"density","type":"quantitative","scale":{"domain":[0,9.65],"nice":false},"axis":null}}},
      {"transform":[{"filter":{"field":"species","equal":"Adelie"}},{"density":"flipper_length_mm","bandwidth":2.4,"extent":[164.8,217.2],"steps":200,"counts":true}],
       "mark":{"type":"area","fill":"#1f77b4","fillOpacity":0.25,"stroke":"#1f77b4","strokeWidth":1.3},
       "encoding":{"x":{"field":"value","type":"quantitative","scale":{"domain":[161.1,242.1],"nice":false,"zero":false},"axis":{"values":[175,200,225],"format":"d","labels":false,"title":null}},"y":{"field":"density","type":"quantitative","scale":{"domain":[0,9.65],"nice":false},"axis":null}}}
    ]}
   ],"resolve":{"scale":{"y":"independent"}}},
  {"width":182,"height":195,"mark":{"type":"circle","size":40,"opacity":1,"stroke":"white","strokeWidth":0.6},"encoding":{
    "x":{"field":"body_mass_g","type":"quantitative","scale":{"domain":[1975,7105],"nice":false,"zero":false},"axis":{"values":[2000,4000,6000],"format":"d","labels":false,"title":null}},
    "y":{"field":"flipper_length_mm","type":"quantitative","scale":{"domain":[169.05,233.95],"nice":false,"zero":false},"axis":{"values":[170,180,190,200,210,220,230],"format":"d","labels":false,"title":null}},
    "color":{"field":"species","type":"nominal","scale":{"domain":["Adelie","Chinstrap","Gentoo"],"range":["#1f77b4","#ff7f0e","#2ca02c"]},"title":"species"}}},

  {"width":182,"height":195,"mark":{"type":"circle","size":40,"opacity":1,"stroke":"white","strokeWidth":0.6},"encoding":{
    "x":{"field":"bill_length_mm","type":"quantitative","scale":{"domain":[27.5,64.8],"nice":false,"zero":false},"axis":{"values":[30,40,50,60],"format":"d","labels":true,"title":"bill_length_mm"}},
    "y":{"field":"body_mass_g","type":"quantitative","scale":{"domain":[2520,6480],"nice":false,"zero":false},"axis":{"values":[3000,4000,5000,6000],"format":"d","labels":true,"title":"body_mass_g"}},
    "color":{"field":"species","type":"nominal","scale":{"domain":["Adelie","Chinstrap","Gentoo"],"range":["#1f77b4","#ff7f0e","#2ca02c"]},"title":"species"}}},
  {"width":182,"height":195,"mark":{"type":"circle","size":40,"opacity":1,"stroke":"white","strokeWidth":0.6},"encoding":{
    "x":{"field":"bill_depth_mm","type":"quantitative","scale":{"domain":[11.44,23.38],"nice":false,"zero":false},"axis":{"values":[15,20],"format":"d","labels":true,"title":"bill_depth_mm"}},
    "y":{"field":"body_mass_g","type":"quantitative","scale":{"domain":[2520,6480],"nice":false,"zero":false},"axis":{"values":[3000,4000,5000,6000],"format":"d","labels":false,"title":null}},
    "color":{"field":"species","type":"nominal","scale":{"domain":["Adelie","Chinstrap","Gentoo"],"range":["#1f77b4","#ff7f0e","#2ca02c"]},"title":"species"}}},
  {"width":182,"height":195,"mark":{"type":"circle","size":40,"opacity":1,"stroke":"white","strokeWidth":0.6},"encoding":{
    "x":{"field":"flipper_length_mm","type":"quantitative","scale":{"domain":[161.1,242.1],"nice":false,"zero":false},"axis":{"values":[175,200,225],"format":"d","labels":true,"title":"flipper_length_mm"}},
    "y":{"field":"body_mass_g","type":"quantitative","scale":{"domain":[2520,6480],"nice":false,"zero":false},"axis":{"values":[3000,4000,5000,6000],"format":"d","labels":false,"title":null}},
    "color":{"field":"species","type":"nominal","scale":{"domain":["Adelie","Chinstrap","Gentoo"],"range":["#1f77b4","#ff7f0e","#2ca02c"]},"title":"species"}}},
  {"width":182,"height":195,"layer":[
    {"mark":{"type":"circle","opacity":0},"encoding":{
      "x":{"field":"body_mass_g","type":"quantitative","scale":{"domain":[1975,7105],"nice":false,"zero":false},"axis":{"values":[2000,4000,6000],"format":"d","labels":true,"title":"body_mass_g"}},
      "y":{"field":"body_mass_g","type":"quantitative","scale":{"domain":[2520,6480],"nice":false,"zero":false},"axis":{"values":[3000,4000,5000,6000],"format":"d","labels":false,"title":null}}}},
    {"layer":[
      {"transform":[{"filter":{"field":"species","equal":"Gentoo"}},{"density":"body_mass_g","bandwidth":192.5,"extent":[3372,6878],"steps":200,"counts":true}],
       "mark":{"type":"area","fill":"#2ca02c","fillOpacity":0.25,"stroke":"#2ca02c","strokeWidth":1.3},
       "encoding":{"x":{"field":"value","type":"quantitative","scale":{"domain":[1975,7105],"nice":false,"zero":false},"axis":{"values":[2000,4000,6000],"format":"d","labels":true,"title":"body_mass_g"}},"y":{"field":"density","type":"quantitative","scale":{"domain":[0,0.1237],"nice":false},"axis":null}}},
      {"transform":[{"filter":{"field":"species","equal":"Chinstrap"}},{"density":"body_mass_g","bandwidth":165.1,"extent":[2205,5295],"steps":200,"counts":true}],
       "mark":{"type":"area","fill":"#ff7f0e","fillOpacity":0.25,"stroke":"#ff7f0e","strokeWidth":1.3},
       "encoding":{"x":{"field":"value","type":"quantitative","scale":{"domain":[1975,7105],"nice":false,"zero":false},"axis":{"values":[2000,4000,6000],"format":"d","labels":true,"title":"body_mass_g"}},"y":{"field":"density","type":"quantitative","scale":{"domain":[0,0.1237],"nice":false},"axis":null}}},
      {"transform":[{"filter":{"field":"species","equal":"Adelie"}},{"density":"body_mass_g","bandwidth":168.1,"extent":[2346,5279],"steps":200,"counts":true}],
       "mark":{"type":"area","fill":"#1f77b4","fillOpacity":0.25,"stroke":"#1f77b4","strokeWidth":1.3},
       "encoding":{"x":{"field":"value","type":"quantitative","scale":{"domain":[1975,7105],"nice":false,"zero":false},"axis":{"values":[2000,4000,6000],"format":"d","labels":true,"title":"body_mass_g"}},"y":{"field":"density","type":"quantitative","scale":{"domain":[0,0.1237],"nice":false},"axis":null}}}
    ]}
   ],"resolve":{"scale":{"y":"independent"}}}
 ]}
],
"config":{
 "view":{"stroke":null},
 "font":"DejaVu Sans",
 "axis":{"grid":false,"domainColor":"#3c3c3c","tickColor":"#3c3c3c","domainWidth":1,"tickWidth":1,"tickSize":4,"labelColor":"#333333","labelFontSize":11,"labelFlush":false,"labelOverlap":false,"titleColor":"#333333","titleFontSize":12,"titleFontWeight":"normal"},
 "axisX":{"labelPadding":3,"titlePadding":4},
 "axisY":{"labelPadding":5,"titlePadding":6},
 "legend":{"orient":"none","legendX":810,"legendY":503,"titleFontSize":11.5,"titleFontWeight":"normal","titleColor":"#333333","labelFontSize":11,"labelColor":"#333333","symbolType":"circle","symbolSize":45,"symbolStrokeWidth":0,"labelOffset":20,"rowPadding":7,"titlePadding":6,"titleAnchor":"middle","padding":0}
}
}
